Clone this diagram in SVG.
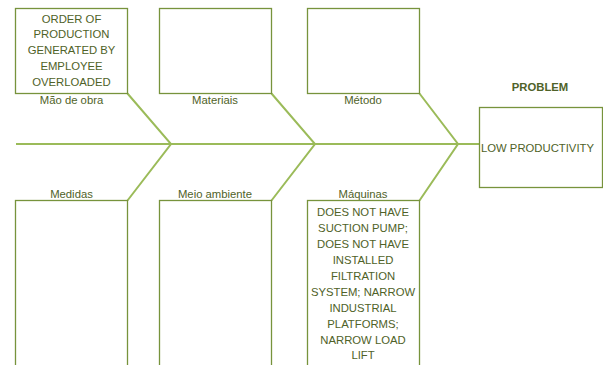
<svg xmlns="http://www.w3.org/2000/svg" width="603" height="365" viewBox="0 0 603 365">
<style>
.box{fill:#fff;stroke:#77933c;stroke-width:1.3}
.bone{fill:none;stroke:#9bbb59;stroke-width:2}
text{font-family:"Liberation Sans",Arial,sans-serif;font-size:11.3px;fill:#4f6228;text-anchor:middle}
.b{font-weight:bold}
</style>
<rect width="603" height="365" fill="#fff"/>
<g id="connectors">
<line class="bone" x1="16" y1="144" x2="479" y2="144"/>
<polyline class="bone" points="127.5,93.5 171,144 127.5,200.5"/>
<polyline class="bone" points="271.5,93.5 315,144 271.5,200.5"/>
<polyline class="bone" points="419.5,93.5 458,144 419.5,200.5"/>
</g>
<g id="mao-de-obra">
<rect class="box" x="15.5" y="8.5" width="112" height="85"/>
<text x="71.5" y="22.5">ORDER OF</text>
<text x="71.5" y="38.3">PRODUCTION</text>
<text x="71.5" y="54.1">GENERATED BY</text>
<text x="71.5" y="69.9">EMPLOYEE</text>
<text x="71.5" y="85.7">OVERLOADED</text>
<text x="71.5" y="104">Mão de obra</text>
</g>
<g id="materiais">
<rect class="box" x="159.5" y="8.5" width="112" height="85"/>
<text x="215" y="104">Materiais</text>
</g>
<g id="metodo">
<rect class="box" x="307.5" y="8.5" width="112" height="85"/>
<text x="363" y="104">Método</text>
</g>
<g id="medidas">
<rect class="box" x="15.5" y="200.5" width="112" height="180"/>
<text x="71.5" y="198">Medidas</text>
</g>
<g id="meio-ambiente">
<rect class="box" x="159.5" y="200.5" width="112" height="180"/>
<text x="215" y="198">Meio ambiente</text>
</g>
<g id="maquinas">
<rect class="box" x="307.5" y="200.5" width="112" height="180"/>
<text x="363" y="198">Máquinas</text>
<text x="363" y="216.3">DOES NOT HAVE</text>
<text x="363" y="232.2">SUCTION PUMP;</text>
<text x="363" y="248.1">DOES NOT HAVE</text>
<text x="363" y="264">INSTALLED</text>
<text x="363" y="279.9">FILTRATION</text>
<text x="363" y="295.8">SYSTEM; NARROW</text>
<text x="363" y="311.7">INDUSTRIAL</text>
<text x="363" y="327.6">PLATFORMS;</text>
<text x="363" y="343.5">NARROW LOAD</text>
<text x="363" y="359.4">LIFT</text>
</g>
<g id="problem">
<text class="b" x="540" y="91">PROBLEM</text>
<rect class="box" x="479.5" y="107.5" width="123" height="80"/>
<text x="537.5" y="152">LOW PRODUCTIVITY</text>
</g>
</svg>
